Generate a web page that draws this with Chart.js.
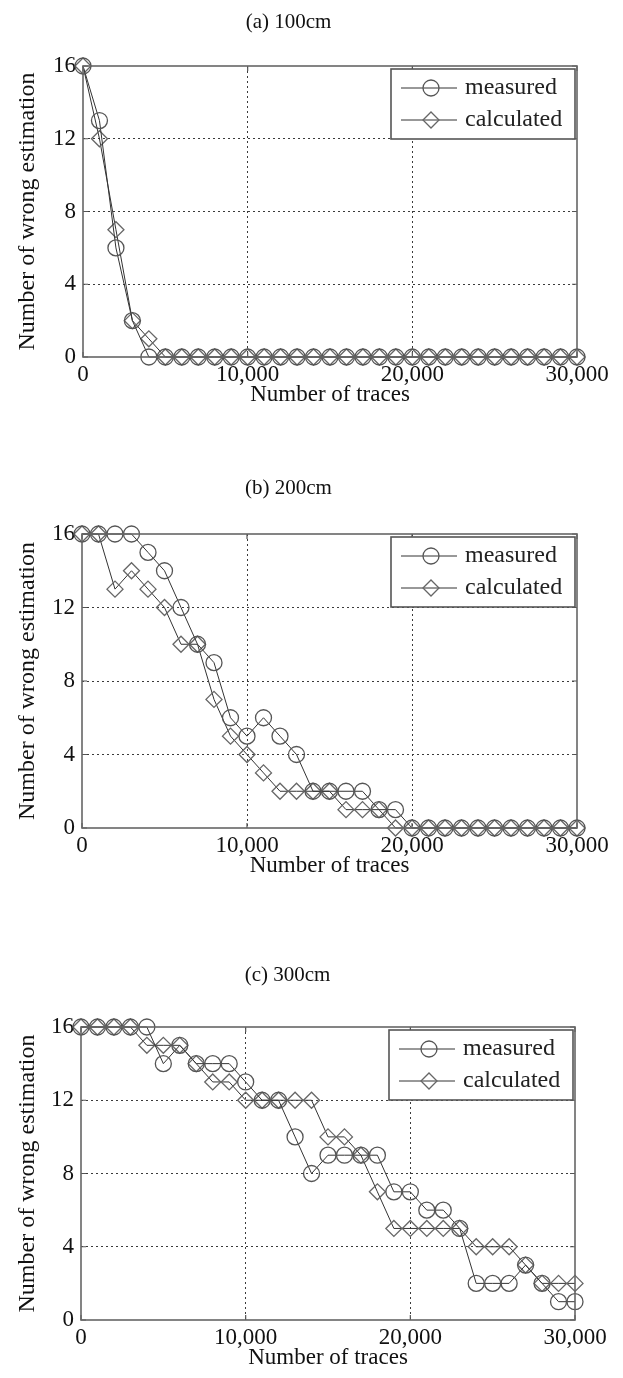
<!DOCTYPE html>
<html><head><meta charset="utf-8">
<script src="https://cdn.jsdelivr.net/npm/chart.js@4.4.1/dist/chart.umd.min.js"></script>
<style>
html,body{margin:0;padding:0;background:#fff;}
body{width:623px;height:1378px;position:relative;overflow:hidden;}
canvas{position:absolute;left:0;}
</style></head><body>
<canvas id="ca" width="623" height="460" style="top:0px"></canvas>
<canvas id="cb" width="623" height="460" style="top:460px"></canvas>
<canvas id="cc" width="623" height="458" style="top:920px"></canvas>
<script>
// ---- data ----
const traces = [0,1000,2000,3000,4000,5000,6000,7000,8000,9000,10000,11000,12000,13000,14000,15000,16000,17000,18000,19000,20000,21000,22000,23000,24000,25000,26000,27000,28000,29000,30000];
const xTickValues = [0,10000,20000,30000];
const yTickValues = [0,4,8,12,16];
const seriesNames = ['measured','calculated'];
const panelTitles = ['(a) 100cm','(b) 200cm','(c) 300cm'];
const xTitle = 'Number of traces';
const yTitle = 'Number of wrong estimation';

const measuredA   = [16,13,6,2,0,0,0,0,0,0,0,0,0,0,0,0,0,0,0,0,0,0,0,0,0,0,0,0,0,0,0];
const calculatedA = [16,12,7,2,1,0,0,0,0,0,0,0,0,0,0,0,0,0,0,0,0,0,0,0,0,0,0,0,0,0,0];
const measuredB   = [16,16,16,16,15,14,12,10,9,6,5,6,5,4,2,2,2,2,1,1,0,0,0,0,0,0,0,0,0,0,0];
const calculatedB = [16,16,13,14,13,12,10,10,7,5,4,3,2,2,2,2,1,1,1,0,0,0,0,0,0,0,0,0,0,0,0];
const measuredC   = [16,16,16,16,16,14,15,14,14,14,13,12,12,10,8,9,9,9,9,7,7,6,6,5,2,2,2,3,2,1,1];
const calculatedC = [16,16,16,16,15,15,15,14,13,13,12,12,12,12,12,10,10,9,7,5,5,5,5,5,4,4,4,3,2,2,2];

const FONT = "'Liberation Serif','Times New Roman',serif";

const framePlugin = {
  id: 'frameLegend',
  afterDatasetsDraw(chart) {
    const {ctx, chartArea: a, scales: {x, y}} = chart;
    ctx.save();
    ctx.strokeStyle = '#555';
    ctx.lineWidth = 1.2;
    ctx.setLineDash([]);
    ctx.beginPath();
    x.ticks.forEach(t => {
      const px = x.getPixelForValue(t.value);
      ctx.moveTo(px, a.bottom); ctx.lineTo(px, a.bottom - 5);
      ctx.moveTo(px, a.top); ctx.lineTo(px, a.top + 5);
    });
    y.ticks.forEach(t => {
      const py = y.getPixelForValue(t.value);
      ctx.moveTo(a.left, py); ctx.lineTo(a.left + 5, py);
      ctx.moveTo(a.right, py); ctx.lineTo(a.right - 5, py);
    });
    ctx.stroke();
    ctx.lineWidth = 1.6;
    ctx.strokeStyle = '#666';
    ctx.strokeRect(a.left, a.top, a.right - a.left, a.bottom - a.top);

    // legend box inside plot, top-right
    const w = 184, h = 70;
    const x0 = a.right - w - 2, y0 = a.top + 3;
    ctx.fillStyle = '#fff';
    ctx.fillRect(x0, y0, w, h);
    ctx.strokeStyle = '#555';
    ctx.lineWidth = 1.6;
    ctx.strokeRect(x0, y0, w, h);
    chart.data.datasets.forEach((ds, i) => {
      const ry = y0 + 19 + 32 * i;
      ctx.strokeStyle = ds.borderColor;
      ctx.lineWidth = 1;
      ctx.beginPath();
      ctx.moveTo(x0 + 10, ry); ctx.lineTo(x0 + 66, ry);
      ctx.stroke();
      ctx.strokeStyle = ds.pointBorderColor;
      ctx.fillStyle = 'rgba(0,0,0,0)';
      ctx.lineWidth = ds.pointBorderWidth;
      Chart.helpers.drawPoint(ctx, {pointStyle: ds.pointStyle, radius: 8, borderWidth: ds.pointBorderWidth, rotation: 0}, x0 + 40, ry);
      ctx.fillStyle = '#222';
      ctx.font = '24px ' + FONT;
      ctx.textBaseline = 'middle';
      ctx.textAlign = 'left';
      ctx.fillText(ds.label, x0 + 74, ry);
    });
    ctx.restore();
  }
};

const panels = [
  {id: 'ca', title: panelTitles[0], m: measuredA, c: calculatedA, tp: {top: 9.4, bottom: 31.4}, pb: 51, xh: 52, tpad: 4, left: 83, right: 46},
  {id: 'cb', title: panelTitles[1], m: measuredB, c: calculatedB, tp: {top: 15.4, bottom: 33.4}, pb: 40, xh: 52, tpad: 4, left: 82, right: 46},
  {id: 'cc', title: panelTitles[2], m: measuredC, c: calculatedC, tp: {top: 42.4, bottom: 39.4}, pb: 6, xh: 52, tpad: 4, left: 81, right: 48}
];

function gridColor(ctx) {
  const v = ctx.tick ? ctx.tick.value : null;
  const s = ctx.scale;
  if (v === s.min || v === s.max) return 'rgba(0,0,0,0)';
  return '#3a3a3a';
}

panels.forEach(p => {
  const pts = arr => traces.map((t, i) => ({x: t, y: arr[i]}));
  new Chart(document.getElementById(p.id), {
    type: 'line',
    data: {
      datasets: [
        {label: seriesNames[0], data: pts(p.m), borderColor: '#333', borderWidth: 1,
         pointStyle: 'circle', pointRadius: 8, pointBorderColor: '#555', pointBorderWidth: 1.3,
         pointBackgroundColor: 'rgba(0,0,0,0)', fill: false, tension: 0, clip: false},
        {label: seriesNames[1], data: pts(p.c), borderColor: '#333', borderWidth: 1,
         pointStyle: 'rectRot', pointRadius: 8, pointBorderColor: '#666', pointBorderWidth: 1.3,
         pointBackgroundColor: 'rgba(0,0,0,0)', fill: false, tension: 0, clip: false}
      ]
    },
    options: {
      responsive: false,
      animation: false,
      devicePixelRatio: 1,
      layout: {padding: {left: 0, right: p.right, top: 0, bottom: p.pb}},
      plugins: {
        legend: {display: false},
        tooltip: {enabled: false},
        title: {display: true, text: p.title, color: '#111',
                font: {family: FONT, size: 21, weight: 'normal', lineHeight: 1.2},
                padding: p.tp}
      },
      scales: {
        x: {
          type: 'linear', min: 0, max: 30000,
          afterBuildTicks: s => { s.ticks = xTickValues.map(v => ({value: v})); },
          afterFit: s => { s.height = p.xh; },
          grid: {color: gridColor, lineWidth: 1, drawTicks: false},
          border: {display: false, dash: [2, 3]},
          ticks: {color: '#111', font: {family: FONT, size: 23, lineHeight: 1.2}, padding: p.tpad, maxRotation: 0,
                  callback: v => v.toLocaleString('en-US')},
          title: {display: true, text: xTitle, color: '#111', font: {family: FONT, size: 23, lineHeight: 1.2},
                  padding: {top: 0, bottom: 0}}
        },
        y: {
          type: 'linear', min: 0, max: 16,
          afterBuildTicks: s => { s.ticks = yTickValues.map(v => ({value: v})); },
          afterFit: s => { s.width = p.left; },
          grid: {color: gridColor, lineWidth: 1, drawTicks: false},
          border: {display: false, dash: [2, 3]},
          ticks: {color: '#111', font: {family: FONT, size: 23, lineHeight: 1.2}, padding: 7},
          title: {display: true, text: yTitle, color: '#111', font: {family: FONT, size: 24, lineHeight: 1.2},
                  padding: {top: 13, bottom: 0}}
        }
      }
    },
    plugins: [framePlugin]
  });
});
</script>
</body></html>
